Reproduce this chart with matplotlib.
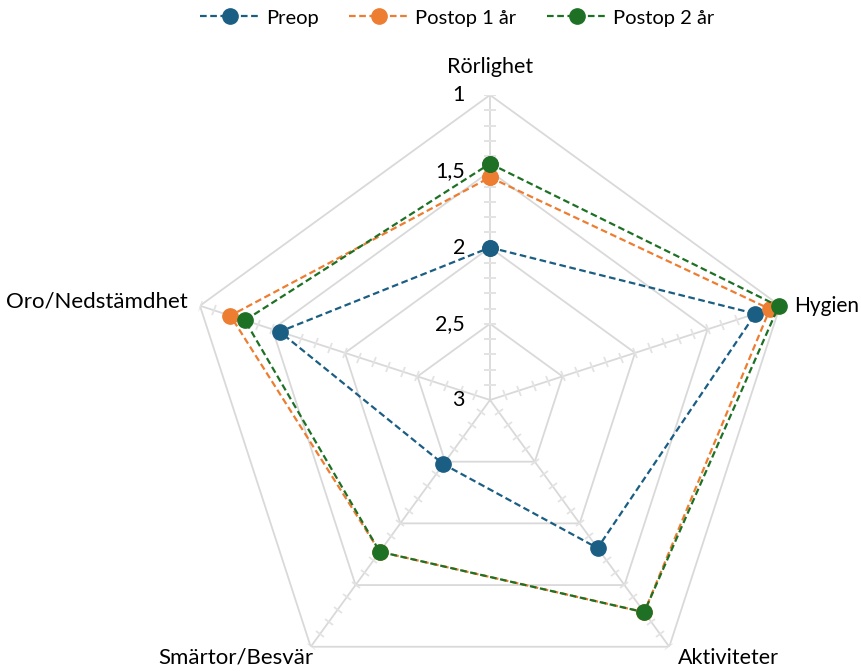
import matplotlib.pyplot as plt
import numpy as np
from matplotlib.markers import MarkerStyle
from matplotlib.transforms import Affine2D

plt.rcParams['font.family'] = ['Lato', 'DejaVu Sans']

categories = ["Rörlighet", "Hygien", "Aktiviteter", "Smärtor/Besvär", "Oro/Nedstämdhet"]
preop = [2.0, 1.17, 1.8, 2.48, 1.55]
postop_1 = [1.54, 1.07, 1.28, 1.77, 1.21]
postop_2 = [1.45, 1.01, 1.28, 1.77, 1.31]
series_names = ["Preop", "Postop 1 år", "Postop 2 år"]
grid_values = [1, 1.5, 2, 2.5]
tick_labels = ["1", "1,5", "2", "2,5", "3"]

colors = ["#1b5e84", "#ed7d31", "#1e7124"]
grid_color = "#d9d9d9"
fs = 15.5

n = len(categories)
angles = np.arange(n) * 2 * np.pi / n
closed = np.append(angles, angles[0])

fig = plt.figure(figsize=(8.62, 6.72), dpi=100)
ax = fig.add_axes([185 / 862, -33 / 672, 610 / 862, 610 / 672], projection="polar")
ax.set_theta_offset(np.pi / 2)
ax.set_theta_direction(-1)
ax.set_ylim(3, 1)
ax.grid(False)
ax.spines["polar"].set_visible(False)
ax.set_xticks([])
ax.set_yticks([])
ax.patch.set_alpha(0)

# pentagon gridlines
for g in grid_values:
    ax.plot(closed, [g] * (n + 1), color=grid_color, lw=1.3, zorder=1)

# spokes with minor cross ticks
minor = np.arange(1.0, 3.0001, 0.1)
for a in angles:
    ax.plot([a, a], [3, 1], color=grid_color, lw=1.3, zorder=1)
    m = MarkerStyle("_", transform=Affine2D().rotate_deg(-np.degrees(a)))
    ax.plot([a] * len(minor), minor, ls="none", marker=m, ms=8,
            mec="#e3e3e3", mew=1.3, zorder=1)

# radial tick labels
for v, lab in zip([1, 1.5, 2, 2.5, 3], tick_labels):
    ax.annotate(lab, (0, v), xytext=(-25, 0), textcoords="offset pixels",
                ha="right", va="center", fontsize=fs, color="#000000",
                annotation_clip=False)

# category labels
label_offsets = [(0, 28), (14, 0), (9, -11), (3, -11), (-12, 4)]
label_ha = ["center", "left", "left", "right", "right"]
label_fs = [fs, 15, fs, 16, 16]
for a, cat, off, ha, size in zip(angles, categories, label_offsets, label_ha, label_fs):
    ax.annotate(cat, (a, 1), xytext=off, textcoords="offset pixels",
                ha=ha, va="center", fontsize=size, annotation_clip=False)

handles = []
for vals, name, c in zip([preop, postop_1, postop_2], series_names, colors):
    h, = ax.plot(closed, vals + vals[:1], color=c, lw=1.6, ls=(0, (3, 1.6)),
                 marker="o", ms=11, mfc=c, mec=c, label=name, zorder=3,
                 clip_on=False)
    handles.append(h)

fig.legend(handles=handles, loc="center", bbox_to_anchor=(457 / 862, 1 - 18 / 672),
           ncol=3, frameon=False, fontsize=14.5, handlelength=3.0,
           handletextpad=0.3, columnspacing=1.5)

fig.savefig("out.png", dpi=100)
